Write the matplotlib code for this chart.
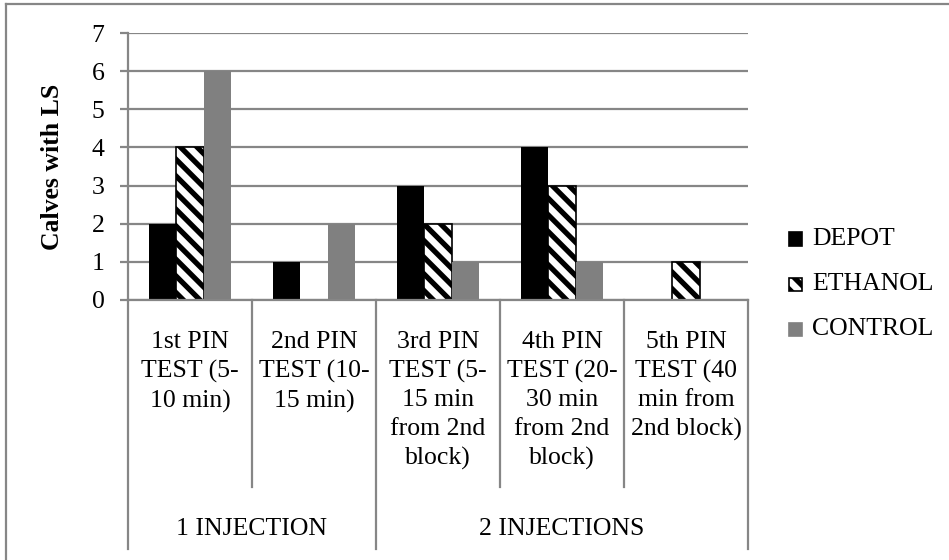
import matplotlib
matplotlib.use("Agg")
import matplotlib.pyplot as plt
from matplotlib.lines import Line2D
from matplotlib.patches import Rectangle
import matplotlib.transforms as mtransforms
import numpy as np

# values per pin test
tests = ["1st PIN\nTEST (5-\n10 min)",
         "2nd PIN\nTEST (10-\n15 min)",
         "3rd PIN\nTEST (5-\n15 min\nfrom 2nd\nblock)",
         "4th PIN\nTEST (20-\n30 min\nfrom 2nd\nblock)",
         "5th PIN\nTEST (40\nmin from\n2nd block)"]
groups = ["1 INJECTION", "2 INJECTIONS"]
group_sizes = [2, 3]
series = ["DEPOT", "ETHANOL", "CONTROL"]
depot = [2, 1, 3, 4, 0]
ethanol = [4, 0, 2, 3, 1]
control = [6, 2, 1, 1, 0]

plt.rcParams["font.family"] = ["Liberation Serif", "DejaVu Serif"]
plt.rcParams["hatch.linewidth"] = 3.8
FS = 18.5
GRID = "#868686"

W, H = 949, 560
fig = plt.figure(figsize=(W / 100, H / 100), dpi=100)

def fx(px):
    return px / W

def fy(py):
    return 1 - py / H

x_left, x_right, y_top, y_bot = 128, 748, 33, 300
ax = fig.add_axes([fx(x_left), fy(y_bot), fx(x_right) - fx(x_left), fy(y_top) - fy(y_bot)])

n = len(tests)
x = np.arange(n)
bw = 1 / 4.5
ax.bar(x - bw, depot, bw, color="black", zorder=3)
# no outline on empty bars
eth_lw = [1.2 if v else 0 for v in ethanol]
ax.bar(x, ethanol, bw, color="white", edgecolor="black", hatch="\\\\", linewidth=eth_lw, zorder=3)
ax.bar(x + bw, control, bw, color="#808080", zorder=3)

ax.set_xlim(-0.5, n - 0.5)
ax.set_ylim(0, 7)
ax.set_yticks(range(8))
ax.yaxis.grid(True, color=GRID, linewidth=1.6)
ax.set_axisbelow(True)
ax.tick_params(axis="y", length=6, width=1.6, color=GRID, pad=11, labelsize=FS)
ax.set_xticks([])
for s in ["top", "right"]:
    ax.spines[s].set_visible(False)
for s in ["left", "bottom"]:
    ax.spines[s].set_color(GRID)
    ax.spines[s].set_linewidth(1.6)
    ax.spines[s].set_zorder(4)

# two-level category axis below the plot
tr = mtransforms.blended_transform_factory(ax.transData, fig.transFigure)
for i, lab in enumerate(tests):
    ax.text(i, fy(331), lab, transform=tr, ha="center", va="top",
            fontsize=FS, linespacing=1.38, clip_on=False)
bounds = np.arange(n + 1) - 0.5
outer = np.concatenate([[0], np.cumsum(group_sizes)])
for b_i, b in enumerate(bounds):
    y_end = 549 if b_i in outer else 487
    ax.add_line(Line2D([b, b], [fy(y_bot), fy(y_end)], transform=tr,
                       color=GRID, linewidth=1.6, clip_on=False))
for g, lab in enumerate(groups):
    mid = (bounds[outer[g]] + bounds[outer[g + 1]]) / 2
    ax.text(mid, fy(529), lab, transform=tr, ha="center", va="center",
            fontsize=FS, clip_on=False)

fig.text(fx(53), fy(167), "Calves with LS", rotation=90, ha="center", va="center",
         fontsize=FS, fontweight="bold")

# legend
styles = [dict(facecolor="black", edgecolor="black"),
          dict(facecolor="white", edgecolor="black", hatch="\\\\"),
          dict(facecolor="#808080", edgecolor="#808080")]
for k, (name, st) in enumerate(zip(series, styles)):
    cy = 239 + 45 * k
    fig.add_artist(Rectangle((fx(789), fy(cy + 6.5)), fx(13), 13 / H,
                             transform=fig.transFigure, linewidth=1.2, **st))
    fig.text(fx(812), fy(cy), name, ha="left", va="center", fontsize=FS)

# chart frame
fig.add_artist(Line2D([fx(6), fx(6)], [fy(4), 0], transform=fig.transFigure,
                      color=GRID, linewidth=1.6))
fig.add_artist(Line2D([fx(6), 1], [fy(4), fy(4)], transform=fig.transFigure,
                      color=GRID, linewidth=1.6))

fig.savefig("out.png", dpi=100)
